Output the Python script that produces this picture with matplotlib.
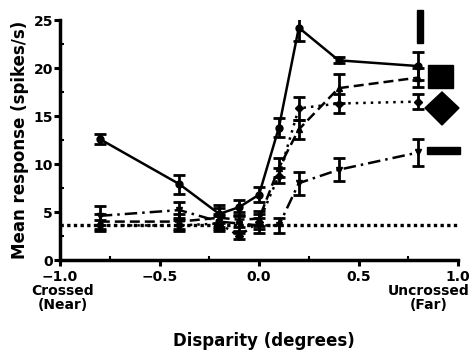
import matplotlib
matplotlib.use("Agg")
import matplotlib.pyplot as plt
from matplotlib.patches import Rectangle, Polygon
from matplotlib.ticker import MultipleLocator

# disparity values (degrees)
disparity = [-0.8, -0.4, -0.2, -0.1, 0.0, 0.1, 0.2, 0.4, 0.8]

# mean responses (spikes/s) and error bars for each stimulus
vert_bar = [12.6, 7.9, 4.8, 5.5, 6.8, 13.8, 24.2, 20.8, 20.2]
vert_err = [0.5, 1.0, 0.9, 0.8, 0.8, 1.0, 1.4, 0.3, 1.5]
square = [4.0, 4.0, 4.4, 4.2, 4.3, 9.6, 13.6, 17.9, 19.0]
square_err = [0.8, 0.8, 1.0, 0.8, 0.8, 1.0, 1.0, 1.5, 1.0]
diamond = [3.6, 3.6, 3.8, 2.5, 4.0, 8.8, 15.8, 16.3, 16.5]
diamond_err = [0.6, 0.6, 0.8, 0.3, 0.8, 0.8, 1.2, 1.0, 0.8]
horiz_bar = [4.6, 5.2, 4.0, 3.8, 3.6, 3.6, 8.0, 9.4, 11.2]
horiz_err = [1.0, 0.8, 0.8, 0.8, 0.8, 0.8, 1.2, 1.2, 1.4]

spontaneous = 3.6

plt.rcParams["font.family"] = ["DejaVu Sans"]
plt.rcParams["font.weight"] = "bold"

fig = plt.figure(figsize=(4.75, 3.53), dpi=100)
ax = fig.add_axes([60 / 475, 1 - 260 / 353, 398 / 475, 240 / 353])

series = [
    (vert_bar, vert_err, "-", "o", 5),
    (square, square_err, (0, (4, 2)), "^", 5),
    (diamond, diamond_err, (0, (1, 2)), "D", 4),
    (horiz_bar, horiz_err, (0, (5, 2, 1, 2)), "v", 5),
]
for vals, errs, ls, mk, ms in series:
    ax.errorbar(disparity, vals, yerr=errs, color="black", linestyle=ls,
                linewidth=1.8, marker=mk, markersize=ms, elinewidth=2,
                capsize=4, capthick=2, zorder=3)

ax.axhline(spontaneous, color="black", linestyle=(0, (1, 1)), linewidth=2.4, zorder=2)

ax.set_xlim(-1.0, 1.0)
ax.set_ylim(0, 25)
ax.xaxis.set_major_locator(MultipleLocator(0.5))
ax.xaxis.set_minor_locator(MultipleLocator(0.25))
ax.yaxis.set_major_locator(MultipleLocator(5))
ax.yaxis.set_minor_locator(MultipleLocator(2.5))
ax.set_xticklabels([])
for s in ["top", "right"]:
    ax.spines[s].set_visible(False)
for s in ["left", "bottom"]:
    ax.spines[s].set_linewidth(2.5)
ax.tick_params(which="major", direction="out", length=4, width=2.2, labelsize=10, pad=1)
ax.tick_params(which="minor", direction="in", length=3, width=1.5)

xticks = [-1.0, -0.5, 0.0, 0.5, 1.0]
for t in xticks:
    lab = f"{t:.1f}".replace("-", "\u2212")
    ax.text(t, -0.04, lab, transform=ax.get_xaxis_transform(), ha="center",
            va="top", fontsize=10, fontweight="bold")

ax.text(-0.985, -0.10, "Crossed\n(Near)", transform=ax.get_xaxis_transform(),
        ha="center", va="top", fontsize=10, fontweight="bold", linespacing=1.0)
ax.text(1.06, -0.10, "Uncrossed\n(Far)", transform=ax.get_xaxis_transform(),
        ha="right", va="top", fontsize=10, fontweight="bold", linespacing=1.0,
        multialignment="center")

ax.set_ylabel("Mean response (spikes/s)", fontsize=12, fontweight="bold", labelpad=3)
fig.text((60 + 398 / 2) / 475 + 0.01, 1 - 341 / 353, "Disparity (degrees)", ha="center",
         va="center", fontsize=12, fontweight="bold")


# stimulus icons, placed in pixel-based axes fractions
def fx(px):
    return (px - 60) / 398


def fy(py):
    return (260 - py) / 240


icons = [
    Rectangle((fx(417), fy(43)), fx(423) - fx(417), fy(10) - fy(43)),
    Rectangle((fx(428), fy(88)), fx(453) - fx(428), fy(65) - fy(88)),
    Polygon([(fx(425), fy(108)), (fx(442), fy(92)), (fx(459), fy(108)), (fx(442), fy(125))]),
    Rectangle((fx(427), fy(154)), fx(460) - fx(427), fy(147) - fy(154)),
]
for p in icons:
    p.set_transform(ax.transAxes)
    p.set_facecolor("black")
    p.set_edgecolor("black")
    p.set_clip_on(False)
    ax.add_patch(p)

fig.savefig("out.png", dpi=100)
